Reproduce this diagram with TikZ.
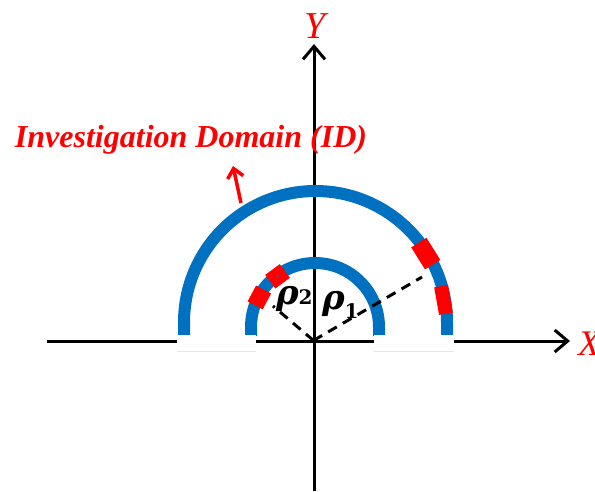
\documentclass[tikz,border=0pt]{standalone}
\usepackage{fontspec}
\setmainfont{Liberation Serif}
\newfontfamily\rhofont{DejaVu Serif}
\usetikzlibrary{arrows.meta,calc}
\definecolor{ringblue}{RGB}{0,112,192}
\definecolor{patchred}{RGB}{255,0,0}
\definecolor{faintblue}{RGB}{220,232,245}
\begin{document}
\begin{tikzpicture}[x=1pt,y=1pt,
  axisline/.style={line width=3pt,-{Straight Barb[length=13pt,width=22pt,line width=3pt]}},
  ring/.style={line width=12pt,ringblue},
  patch/.style={fill=patchred,draw=none,inner sep=0pt,outer sep=0pt},
  dot/.style={circle,fill=ringblue,inner sep=0pt,minimum size=2pt},
  radius line/.style={line width=3pt,dash pattern=on 10pt off 7pt},
  lbl/.style={inner sep=0pt,outer sep=0pt}]
\useasboundingbox (0,0) rectangle (595,-491);
% axes
\coordinate (xs) at (47,-341);
\coordinate (xe) at (570,-341);
\coordinate (ys) at (314,-491);
\coordinate (ye) at (314,-44);
\coordinate (O) at (313.5,-340.5);
\draw[axisline] (xs) -- (xe);
\draw[axisline] (ys) -- (ye);
% rings
\draw[ring] (184,-336) -- (184,-322.5) arc[start angle=180,end angle=0,radius=131.5] -- (447,-336);
\draw[ring] (251,-336) -- (251,-327) arc[start angle=180,end angle=0,radius=64] -- (379,-336);
% white covers over axis
\fill[white] (177,-335) rectangle (256,-351);
\fill[white] (374,-335) rectangle (454,-351);
\draw[faintblue,line width=0.8pt] (177,-351) -- (256,-351);
\draw[faintblue,line width=0.8pt] (374,-351) -- (454,-351);
% red patches
\node[patch,minimum width=26pt,minimum height=18pt,rotate=-58] (p1) at ($(315.5,-322.5)+(32:130)$) {};
\node[patch,minimum width=28pt,minimum height=14pt,rotate=-80] (p2) at ($(315.5,-322.5)+(10:130)$) {};
\node[patch,minimum width=18pt,minimum height=17pt,rotate=36.5] (p3) at ($(315,-327)+(126.5:63)$) {};
\node[patch,minimum width=18pt,minimum height=17pt,rotate=62] (p4) at ($(315,-327)+(152:63)$) {};
\node[dot] at (p3) {};
\node[dot] at (p4) {};
% radii
\coordinate (r1) at (422,-277);
\coordinate (r2) at (273,-306);
\draw[radius line] (O) -- (r1);
\draw[radius line] (O) -- (r2);
% labels
\node[lbl,anchor=base west] (rho2) at (276,-304) {\rhofont\fontsize{34}{34}\selectfont\bfseries\itshape ρ\upshape\fontsize{20}{20}\selectfont 2};
\node[lbl,anchor=base west] (rho1) at (322,-309) {\rhofont\fontsize{34}{34}\selectfont\bfseries\itshape ρ\raisebox{-9pt}{\upshape\fontsize{20}{20}\selectfont 1}};
\node[lbl,anchor=base west,text=patchred] (id) at (15,-147) {\fontsize{32}{32}\selectfont\bfseries\itshape Investigation Domain (ID)};
\node[lbl,text=patchred] (ylab) at (315,-26) {\fontsize{38}{38}\selectfont\itshape Y};
\node[lbl,anchor=base west,text=patchred] (xlab) at (578,-355) {\fontsize{36}{36}\selectfont\itshape X};
% red arrow
\coordinate (at) at (241,-203);
\coordinate (ah) at (233,-166);
\draw[patchred,line width=3.5pt,-{Straight Barb[length=9pt,width=16pt,line width=3.5pt]}] (at) -- (ah);
\end{tikzpicture}
\end{document}
